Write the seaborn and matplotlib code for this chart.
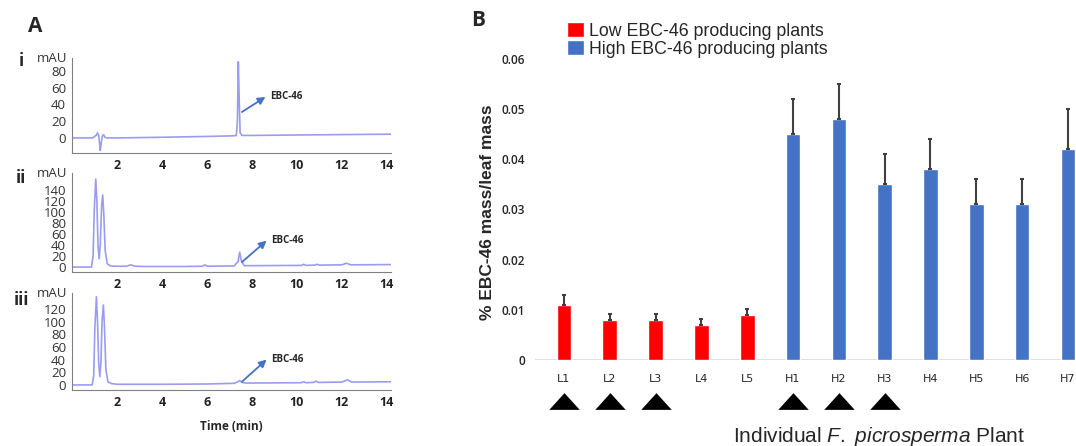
import matplotlib
matplotlib.use('Agg')
import matplotlib.pyplot as plt
import matplotlib.transforms as mtransforms
import numpy as np
import pandas as pd
import seaborn as sns
from matplotlib.patches import Patch
from matplotlib.ticker import MultipleLocator

# panel A: chromatogram traces (time in min, mAU)
time_i = [0, 0.9, 1.05, 1.12, 1.17, 1.21, 1.24, 1.28, 1.33, 1.39, 1.44, 1.52, 2.0, 4.0,
          6.0, 7.0, 7.3, 7.35, 7.39, 7.43, 7.47, 7.55, 8.0, 10.0, 12.0, 14.2]
mau_i = [0, 0, 3, 6, 3, -6, -15, -7, 2, 4, 1, 0, 0, 0.8,
         1.8, 2.4, 2.8, 20, 91, 45, 6, 3, 3, 3.5, 4, 4.5]

time_ii = [0, 0.85, 0.92, 0.98, 1.04, 1.09, 1.14, 1.19, 1.24, 1.3, 1.35, 1.40, 1.46, 1.55,
           1.7, 2.0, 2.4, 2.6, 2.8, 3.2, 5.0, 5.8, 5.9, 6.0, 7.2, 7.38, 7.45, 7.52, 7.65,
           8.0, 10.2, 10.3, 10.4, 10.8, 10.9, 11.0, 12.0, 12.2, 12.4, 14.2]
mau_ii = [0, 0, 20, 110, 160, 120, 40, 15, 40, 110, 131, 95, 30, 6,
          2, 1.5, 1.5, 4, 1.5, 1, 1, 1.5, 4, 1.5, 2, 10, 27, 12, 2.5,
          2.5, 3, 5, 3, 3.5, 5, 3.5, 4, 7, 4, 4.5]

time_iii = [0, 0.88, 0.95, 1.0, 1.07, 1.12, 1.17, 1.22, 1.27, 1.32, 1.38, 1.43, 1.49, 1.58,
            1.75, 2.0, 4.0, 6.0, 7.2, 7.38, 7.45, 7.55, 7.7, 8.0, 10.2, 10.3, 10.4, 10.75,
            10.85, 10.95, 12.0, 12.25, 12.45, 14.2]
mau_iii = [0, 0, 15, 90, 139, 100, 35, 13, 35, 100, 126, 90, 25, 5,
           2, 1, 1, 1.5, 2.5, 5, 7, 4, 3, 3, 3.5, 5, 3.5, 4,
           6, 4, 4.5, 8, 4.5, 5]

# panel B: EBC-46 content per plant
plants = ['L1', 'L2', 'L3', 'L4', 'L5', 'H1', 'H2', 'H3', 'H4', 'H5', 'H6', 'H7']
groups = ['Low'] * 5 + ['High'] * 7
mass_pct = [0.011, 0.008, 0.008, 0.007, 0.009, 0.045, 0.048, 0.035, 0.038, 0.031, 0.031, 0.042]
mass_err = [0.002, 0.0012, 0.0012, 0.0012, 0.0012, 0.007, 0.007, 0.006, 0.006, 0.005, 0.005, 0.008]
marked = ['L1', 'L2', 'L3', 'H1', 'H2', 'H3']

sns.set_style('white')
plt.rcParams['font.family'] = ['Open Sans', 'DejaVu Sans']
plt.rcParams['mathtext.fontset'] = 'custom'
plt.rcParams['mathtext.it'] = 'Liberation Sans:italic'
plt.rcParams['mathtext.rm'] = 'Liberation Sans'

W, H = 1076, 446
fig = plt.figure(figsize=(W / 100, H / 100), dpi=100)


def px_axes(left, top, right, bottom):
    return fig.add_axes([left / W, 1 - bottom / H, (right - left) / W, (bottom - top) / H])


trace_color = '#9a9cf0'
arrow_color = '#4472c4'
traces = [
    (time_i, mau_i, (-18, 96), 80, 5, (57.6, 153), 'i', 61, (7.55, 31), (8.6, 49)),
    (time_ii, mau_ii, (-9, 171), 140, 10, (173, 272), 'ii', 178, (7.55, 9), (8.65, 48)),
    (time_iii, mau_iii, (-8, 145), 120, 10, (293, 390), 'iii', 300, (7.55, 5), (8.65, 40)),
]
for k, (t, y, ylim, ytop, minor, (top, bottom), tag, tag_y, start, tip) in enumerate(traces):
    ax = px_axes(72.4, top, 391.2, bottom)
    sns.lineplot(x=t, y=y, ax=ax, color=trace_color, lw=1.2, sort=False, estimator=None)
    ax.set_xlim(0, 14.2)
    ax.set_ylim(*ylim)
    ax.set_yticks(np.arange(0, ytop + 1, 20))
    ax.yaxis.set_minor_locator(MultipleLocator(minor))
    ax.set_xticks([2, 4, 6, 8, 10, 12, 14])
    ax.xaxis.set_minor_locator(MultipleLocator(0.5))
    for s in ['top', 'right']:
        ax.spines[s].set_visible(False)
    for s in ['left', 'bottom']:
        ax.spines[s].set_color('#808080')
        ax.spines[s].set_linewidth(0.8)
    ax.tick_params(which='major', direction='out', length=3, width=0.8, color='#808080',
                   pad=1.5)
    ax.tick_params(which='minor', direction='out', length=1.8, width=0.6, color='#808080')
    ax.tick_params(axis='y', labelsize=9.5, labelcolor='#333333')
    ax.tick_params(axis='x', labelsize=9, labelcolor='#222222')
    for lab in ax.get_xticklabels():
        lab.set_fontweight('bold')
    ax.text(-0.015, 0.99, 'mAU', transform=ax.transAxes, ha='right', va='center',
            fontsize=9.5, color='#333333')
    ax.annotate('', xy=tip, xytext=start,
                arrowprops=dict(arrowstyle='-|>', color=arrow_color, lw=1.3,
                                mutation_scale=11, shrinkA=0, shrinkB=0))
    ax.text(tip[0] + 0.2, tip[1], 'EBC-46', fontsize=7, fontweight='bold', va='center')
    fig.text(21 / W, 1 - tag_y / H, tag, fontsize=12, fontweight='bold', ha='center',
             va='center')
    if k == 2:
        ax.set_xlabel('Time (min)', fontsize=8.5, fontweight='bold', labelpad=8)

fig.text(35 / W, 1 - 27 / H, 'A', fontsize=15, fontweight='bold', ha='center', va='center')
fig.text(478 / W, 1 - 21 / H, 'B', fontsize=15, fontweight='bold', ha='center', va='center')

# panel B
df = pd.DataFrame({'plant': plants, 'group': groups, 'pct': mass_pct, 'err': mass_err})
axb = px_axes(535, 59, 1100, 360)
palette = {'Low': '#ff0000', 'High': '#4472c4'}
sns.barplot(data=df, x='plant', y='pct', hue='group', palette=palette, dodge=False,
            width=0.32, errorbar=None, legend=False, ax=axb, saturation=1)
xpos = np.arange(len(plants))
axb.errorbar(xpos, df['pct'], yerr=[np.zeros(len(plants)), df['err']], fmt='none',
             ecolor='#404040', elinewidth=1.5, capsize=1.5, capthick=1.5)
axb.axhline(0, color='#d9d9d9', lw=1.2, zorder=0)
axb.set_xlim(-0.633, 11.70)
axb.set_ylim(0, 0.06)
axb.set_yticks([0, 0.01, 0.02, 0.03, 0.04, 0.05, 0.06])
axb.set_yticklabels(['0', '0.01', '0.02', '0.03', '0.04', '0.05', '0.06'])
for s in axb.spines.values():
    s.set_visible(False)
axb.tick_params(axis='y', length=0, pad=7, labelsize=8.5)
axb.tick_params(axis='x', length=0, pad=10, labelsize=8)
for lab in axb.get_yticklabels():
    lab.set_fontweight('semibold')
for lab in axb.get_xticklabels():
    lab.set_fontfamily(['Liberation Sans Narrow', 'DejaVu Sans'])

axb.set_ylabel('% EBC-46 mass/leaf mass', fontsize=12.5, fontweight='bold',
               fontfamily='Liberation Sans')
axb.yaxis.set_label_coords(-0.071, 0.49)
axb.set_xlabel(r'Individual $\it{F.}$ $\it{picrosperma}$ Plant', fontsize=15,
               fontfamily='Liberation Sans')
axb.xaxis.set_label_coords(0.609, -0.215)

# arrowheads under the selected plants
tri = [(-1, -0.55), (1, -0.55), (0, 0.55), (-1, -0.55)]
trans = mtransforms.blended_transform_factory(axb.transData, axb.transAxes)
mx = [plants.index(p) for p in marked]
axb.scatter(mx, [-0.136] * len(mx), marker=tri, s=480, color='black', transform=trans,
            clip_on=False, linewidths=0)

fig.legend(handles=[Patch(fc='#ff0000', label='Low EBC-46 producing plants'),
                    Patch(fc='#4472c4', label='High EBC-46 producing plants')],
           loc='upper left', bbox_to_anchor=(567 / W, 1 - 22 / H), frameon=False,
           prop={'family': 'Liberation Sans', 'size': 12.8}, handlelength=0.95,
           handleheight=0.95, handletextpad=0.3, labelspacing=0.0, borderpad=0,
           borderaxespad=0)

fig.savefig('out.png', dpi=100)
